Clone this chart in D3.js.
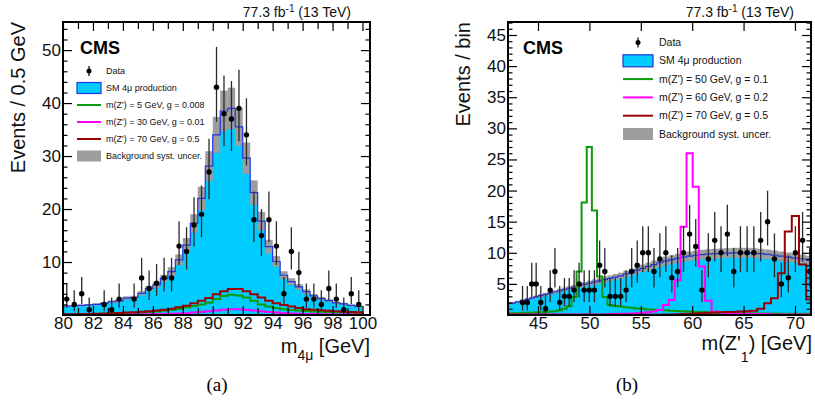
<!DOCTYPE html>
<html>
<head>
<meta charset="utf-8">
<script src="https://cdn.jsdelivr.net/npm/d3@7"></script>
<style>
body { margin: 0; background: #fff; }
svg { display: block; font-family: "Liberation Sans", Arial, sans-serif; }
</style>
</head>
<body>
<div id="chart-area"></div>
<script>
// ---- (a) m4mu, 0.5 GeV bins from 80 to 100
var leftEdges = d3.range(80, 100.01, 0.5);
var leftData = [3, 2, 4, 1, 0, 2, 1, 3, 0, 3, 7, 5, 6, 7, 7, 13, 12, 17, 19, 27,
                43, 38, 37, 39, 34, 18, 15, 18, 13, 4, 12, 8, 3, 3, 2, 5, 3, 1, 4, 2];
var leftBkg = [1.7, 1.7, 1.8, 1.9, 2.0, 2.2, 2.5, 2.65, 3.2, 3.3, 4.1, 5.0, 5.7, 6.9, 8.2, 10.4, 13.2, 17.3, 22, 28.1,
               34, 38.5, 39, 35.5, 29.6, 23.1, 17.7, 12.9, 10.1, 7.5, 6.3, 5.3, 4.4, 3.6, 3.1, 2.7, 2.3, 2.1, 1.8, 1.6];
var leftSig5 = [0.1, 0.1, 0.15, 0.15, 0.2, 0.2, 0.25, 0.3, 0.35, 0.4, 0.45, 0.55, 0.65, 0.8, 0.95, 1.15, 1.4, 1.7, 2.0, 2.3,
                3.0, 3.6, 3.8, 3.7, 3.3, 2.7, 2.0, 1.6, 1.3, 1.1, 0.95, 0.85, 0.75, 0.65, 0.6, 0.55, 0.5, 0.45, 0.4, 0.4];
var leftSig30 = [0.05, 0.05, 0.05, 0.05, 0.1, 0.1, 0.1, 0.1, 0.1, 0.15, 0.15, 0.15, 0.2, 0.2, 0.25, 0.3, 0.35, 0.45, 0.55, 0.7,
                 0.85, 1.0, 1.1, 1.1, 1.0, 0.85, 0.7, 0.55, 0.45, 0.35, 0.3, 0.25, 0.2, 0.2, 0.15, 0.15, 0.1, 0.1, 0.1, 0.1];
var leftSig70 = [0.15, 0.15, 0.2, 0.2, 0.25, 0.3, 0.35, 0.4, 0.45, 0.5, 0.6, 0.7, 0.85, 1.0, 1.2, 1.45, 1.75, 2.2, 2.7, 3.2,
                 3.9, 4.5, 4.9, 4.9, 4.5, 3.9, 3.3, 2.7, 2.2, 1.9, 1.6, 1.3, 1.1, 1.0, 0.9, 0.8, 0.7, 0.6, 0.55, 0.5];
var leftLegend = ["Data", "SM 4\u03bc production", "m(Z') = 5 GeV, g = 0.008", "m(Z') = 30 GeV, g = 0.01",
                  "m(Z') = 70 GeV, g = 0.5", "Background syst. uncer."];

// ---- (b) m(Z'1), variable bins
var rightEdges = [42.10, 42.80, 43.26, 43.73, 44.18, 44.60, 45.04, 45.50, 45.96, 46.41, 46.88, 47.34, 47.80, 48.27,
                  48.75, 49.24, 49.74, 50.24, 50.74, 51.25, 51.75, 52.26, 52.78, 53.30, 53.84, 54.39, 54.92, 55.46,
                  56.01, 56.56, 57.15, 57.73, 58.30, 58.87, 59.45, 60.05, 60.64, 61.25, 61.89, 62.50, 63.11, 63.73,
                  64.37, 65.02, 65.67, 66.33, 67.00, 67.67, 68.34, 69.01, 69.69, 70.39, 71.09, 71.77];
var rightData = [0, 0, 2, 2, 5, 5, 2, 1, 4, 7, 2, 3, 3, 4, 5, 4, 4, 4, 8, 7, 3, 3, 3, 4, 7, 8, 10, 10, 7, 9,
                 10, 6, 7, 10, 13, 11, 4, 9, 12, 10, 13, 7, 10, 10, 10, 12, 15, 9, 5, 6, 10, 12, 7];
var rightBkg = [1.9, 2.1, 2.3, 2.5, 2.7, 2.9, 3.1, 3.3, 3.5, 3.7, 3.9, 4.1, 4.3, 4.5, 4.7, 4.9, 5.1, 5.3, 5.5, 5.7,
                5.9, 6.1, 6.3, 6.6, 6.9, 7.2, 7.5, 7.8, 8.1, 8.4, 8.7, 8.9, 9.1, 9.3, 9.45, 9.6, 9.7, 9.8, 9.85, 9.9,
                9.95, 10.0, 10.0, 10.0, 9.95, 9.85, 9.75, 9.6, 9.45, 9.3, 9.15, 9.0, 8.8];
var rightSig50 = [0.3, 0.3, 0.35, 0.35, 0.4, 0.4, 0.45, 0.5, 0.55, 0.6, 0.75, 1.0, 1.4, 2.9, 7.0, 18.1, 27.0, 16.8, 6.2, 2.9,
                  1.6, 1.45, 1.35, 1.25, 1.15, 1.05, 1.0, 0.9, 0.85, 0.8, 0.75, 0.7, 0.65, 0.6, 0.55, 0.5, 0.5, 0.45, 0.4, 0.4,
                  0.35, 0.35, 0.3, 0.3, 0.3, 0.25, 0.25, 0.25, 0.2, 0.2, 0.2, 0.2, 0.2];
var rightSig60 = [0.1, 0.1, 0.1, 0.1, 0.1, 0.1, 0.1, 0.1, 0.1, 0.1, 0.1, 0.1, 0.1, 0.1, 0.1, 0.1, 0.1, 0.1, 0.1, 0.1,
                  0.15, 0.15, 0.2, 0.2, 0.25, 0.3, 0.35, 0.45, 0.55, 0.8, 1.6, 2.4, 5.6, 14.2, 26.0, 20.6, 7.8, 2.3, 0.55, 0.4,
                  0.3, 0.25, 0.2, 0.2, 0.15, 0.15, 0.15, 0.1, 0.1, 0.1, 0.1, 0.1, 0.1];
var rightSig70 = [0.05, 0.05, 0.05, 0.05, 0.05, 0.05, 0.05, 0.05, 0.05, 0.05, 0.05, 0.05, 0.05, 0.05, 0.05, 0.05, 0.05, 0.05, 0.05, 0.05,
                  0.05, 0.05, 0.05, 0.05, 0.05, 0.05, 0.05, 0.05, 0.05, 0.05, 0.08, 0.1, 0.12, 0.15, 0.2, 0.25, 0.3, 0.35, 0.4, 0.45,
                  0.5, 0.5, 0.55, 0.6, 0.7, 1.0, 1.9, 2.7, 6.7, 13.4, 15.9, 8.1, 2.5];
var rightLegend = ["Data", "SM 4\u03bc production", "m(Z') = 50 GeV, g = 0.1", "m(Z') = 60 GeV, g = 0.2",
                   "m(Z') = 70 GeV, g = 0.5", "Background syst. uncer."];

var cyan = "#00ccff", blue = "#2136e0", grey = "#9d9d9d";
var sigColors = ["#0c9a0c", "#ff00ff", "#9b0000"];

var svg = d3.select("#chart-area").append("svg")
    .attr("width", 815).attr("height", 405);

// Garwood-like 68% intervals (Gehrels approximation)
function errLo(n) { return n * Math.pow(1 - 1 / (9 * n) - 1 / (3 * Math.sqrt(n)), 3); }
function errHi(n) { return n + Math.sqrt(n + 0.75) + 1; }

function stepPath(x, y, edges, vals, closed) {
    var p = d3.path();
    if (closed) p.moveTo(x(edges[0]), y(0)); else p.moveTo(x(edges[0]), y(vals[0]));
    vals.forEach(function(v, i) {
        p.lineTo(x(edges[i]), y(v));
        p.lineTo(x(edges[i + 1]), y(v));
    });
    if (closed) p.lineTo(x(edges[edges.length - 1]), y(0));
    return p.toString();
}

function drawPanel(c) {
    var x = d3.scaleLinear().domain(c.xDomain).range([c.left, c.right]);
    var y = d3.scaleLinear().domain(c.yDomain).range([c.bottom, c.top]);

    svg.append("clipPath").attr("id", c.id + "-clip")
        .append("rect").attr("x", c.left).attr("y", c.top)
        .attr("width", c.right - c.left).attr("height", c.bottom - c.top);
    var g = svg.append("g").attr("clip-path", "url(#" + c.id + "-clip)");

    // SM background
    g.append("path").attr("d", stepPath(x, y, c.edges, c.bkg, true)).attr("fill", cyan);
    g.selectAll("rect.unc").data(c.bkg).enter().append("rect")
        .attr("class", "unc")
        .attr("x", (d, i) => x(c.edges[i]))
        .attr("width", (d, i) => x(c.edges[i + 1]) - x(c.edges[i]))
        .attr("y", d => y(d * (1 + c.unc)))
        .attr("height", d => y(d * (1 - c.unc)) - y(d * (1 + c.unc)))
        .attr("fill", grey);
    g.append("path").attr("d", stepPath(x, y, c.edges, c.bkg, false))
        .attr("fill", "none").attr("stroke", blue).attr("stroke-width", 1.2);

    // signals
    c.signals.forEach(function(s, k) {
        g.append("path").attr("d", stepPath(x, y, c.edges, s, true))
            .attr("fill", "none").attr("stroke", sigColors[k]).attr("stroke-width", 2);
    });

    // data
    var pts = c.data.map((n, i) => ({ n: n, xc: (c.edges[i] + c.edges[i + 1]) / 2 })).filter(d => d.n > 0);
    g.selectAll("line.err").data(pts).enter().append("line")
        .attr("x1", d => x(d.xc)).attr("x2", d => x(d.xc))
        .attr("y1", d => y(errLo(d.n))).attr("y2", d => y(errHi(d.n)))
        .attr("stroke", "#2a2a2a").attr("stroke-width", 1.3);
    g.selectAll("circle.pt").data(pts).enter().append("circle")
        .attr("cx", d => x(d.xc)).attr("cy", d => y(d.n)).attr("r", 2.7).attr("fill", "#000");

    // axes: ticks point inwards on all four sides
    function ax(gen, tx, ty, vals, size, fmt) {
        var a = svg.append("g").attr("transform", "translate(" + tx + "," + ty + ")")
            .call(gen.tickValues(vals).tickSize(-size).tickPadding(2).tickFormat(fmt || ""));
        a.select(".domain").remove();
        a.selectAll("line").attr("stroke", "#000").attr("stroke-width", 1.2);
        a.selectAll("text").attr("font-size", 17).attr("fill", "#111")
            .attr("font-family", "Liberation Sans, Arial, sans-serif");
        return a;
    }
    ax(d3.axisBottom(x), 0, c.bottom, c.xMajor, 9, d3.format("d"));
    ax(d3.axisTop(x), 0, c.top, c.xMajor, 9);
    if (c.xMinor.length) {
        ax(d3.axisBottom(x), 0, c.bottom, c.xMinor, 7);
        ax(d3.axisTop(x), 0, c.top, c.xMinor, 7);
    }
    ax(d3.axisLeft(y), c.left, 0, c.yMajor, 9, d3.format("d"));
    ax(d3.axisRight(y), c.right, 0, c.yMajor, 9);
    ax(d3.axisLeft(y), c.left, 0, c.yMinor, 4.5);
    ax(d3.axisRight(y), c.right, 0, c.yMinor, 4.5);

    svg.append("rect").attr("x", c.left).attr("y", c.top)
        .attr("width", c.right - c.left).attr("height", c.bottom - c.top)
        .attr("fill", "none").attr("stroke", "#000").attr("stroke-width", 2);

    // labels
    svg.append("text").attr("x", c.cmsX).attr("y", 54).attr("font-size", 18).attr("font-weight", "bold").text("CMS");
    var lumi = svg.append("text").attr("x", c.lumiX).attr("y", 17).attr("text-anchor", "end")
        .attr("font-size", 14).attr("fill", "#111");
    lumi.append("tspan").text("77.3 fb");
    lumi.append("tspan").attr("dy", -5).attr("font-size", 10).text("-1");
    lumi.append("tspan").attr("dy", 5).text(" (13 TeV)");

    svg.append("text").attr("transform", "translate(" + c.yLabelX + "," + c.top + ") rotate(-90)")
        .attr("text-anchor", "end").attr("font-size", 20).attr("fill", "#111").text(c.yLabel);

    // legend
    var L = c.legend;
    var lg = svg.append("g").attr("font-size", L.font).attr("fill", "#111");
    c.legendText.forEach(function(t, i) {
        var yy = L.y0 + i * L.dy;
        lg.append("text").attr("x", L.tx).attr("y", yy).attr("dy", "0.35em").text(t);
        if (i === 0) {
            var mx = (L.bx0 + L.bx1) / 2;
            lg.append("line").attr("x1", mx).attr("x2", mx).attr("y1", yy - 5).attr("y2", yy + 5)
                .attr("stroke", "#000").attr("stroke-width", 1.2);
            lg.append("circle").attr("cx", mx).attr("cy", yy).attr("r", 2.5).attr("fill", "#000");
        } else if (i === 1 || i === 5) {
            lg.append("rect").attr("x", L.bx0).attr("y", yy - L.bh / 2)
                .attr("width", L.bx1 - L.bx0).attr("height", L.bh)
                .attr("fill", i === 1 ? cyan : grey)
                .attr("stroke", i === 1 ? blue : "none").attr("stroke-width", 1.2);
        } else {
            lg.append("line").attr("x1", L.bx0).attr("x2", L.bx1).attr("y1", yy).attr("y2", yy)
                .attr("stroke", sigColors[i - 2]).attr("stroke-width", 2);
        }
    });
    return { x: x, y: y };
}

drawPanel({
    id: "a", left: 63, right: 370, top: 22, bottom: 315,
    xDomain: [80, 100.5], yDomain: [0, 55.3],
    edges: leftEdges, data: leftData, bkg: leftBkg, unc: 0.1,
    signals: [leftSig5, leftSig30, leftSig70],
    xMajor: d3.range(80, 101, 2), xMinor: d3.range(81, 100, 2),
    yMajor: [10, 20, 30, 40, 50], yMinor: d3.range(2, 56, 2).filter(v => v % 10),
    cmsX: 80, lumiX: 351, yLabelX: 25, yLabel: "Events / 0.5 GeV",
    legend: { font: 9, y0: 71, dy: 17, tx: 106, bx0: 77, bx1: 101, bh: 11 },
    legendText: leftLegend
});

drawPanel({
    id: "b", left: 508, right: 811, top: 22, bottom: 315,
    xDomain: [42.08, 71.56], yDomain: [0, 47.09],
    edges: rightEdges, data: rightData, bkg: rightBkg, unc: 0.08,
    signals: [rightSig50, rightSig60, rightSig70],
    xMajor: [45, 50, 55, 60, 65, 70], xMinor: [],
    yMajor: [5, 10, 15, 20, 25, 30, 35, 40, 45], yMinor: d3.range(1, 48, 1).filter(v => v % 5),
    cmsX: 523, lumiX: 794, yLabelX: 470, yLabel: "Events / bin",
    legend: { font: 10.5, y0: 42.5, dy: 18.3, tx: 659, bx0: 623, bx1: 653, bh: 12 },
    legendText: rightLegend
});

// x-axis titles
var xa = svg.append("text").attr("x", 370).attr("y", 353).attr("text-anchor", "end")
    .attr("font-size", 20).attr("fill", "#111");
xa.append("tspan").text("m");
xa.append("tspan").attr("dy", 7).attr("font-size", 14).text("4\u03bc");
xa.append("tspan").attr("dy", -7).text(" [GeV]");

var xb = svg.append("text").attr("x", 812).attr("y", 350).attr("text-anchor", "end")
    .attr("font-size", 20).attr("fill", "#111");
xb.append("tspan").text("m(Z'");
xb.append("tspan").attr("dy", 12).attr("font-size", 14).text("1");
xb.append("tspan").attr("dy", -12).text(") [GeV]");

// sub-figure captions
svg.append("text").attr("x", 217).attr("y", 391).attr("text-anchor", "middle")
    .attr("font-family", "Liberation Serif, Times New Roman, serif").attr("font-size", 19).text("(a)");
svg.append("text").attr("x", 627).attr("y", 391).attr("text-anchor", "middle")
    .attr("font-family", "Liberation Serif, Times New Roman, serif").attr("font-size", 19).text("(b)");
</script>
</body>
</html>
